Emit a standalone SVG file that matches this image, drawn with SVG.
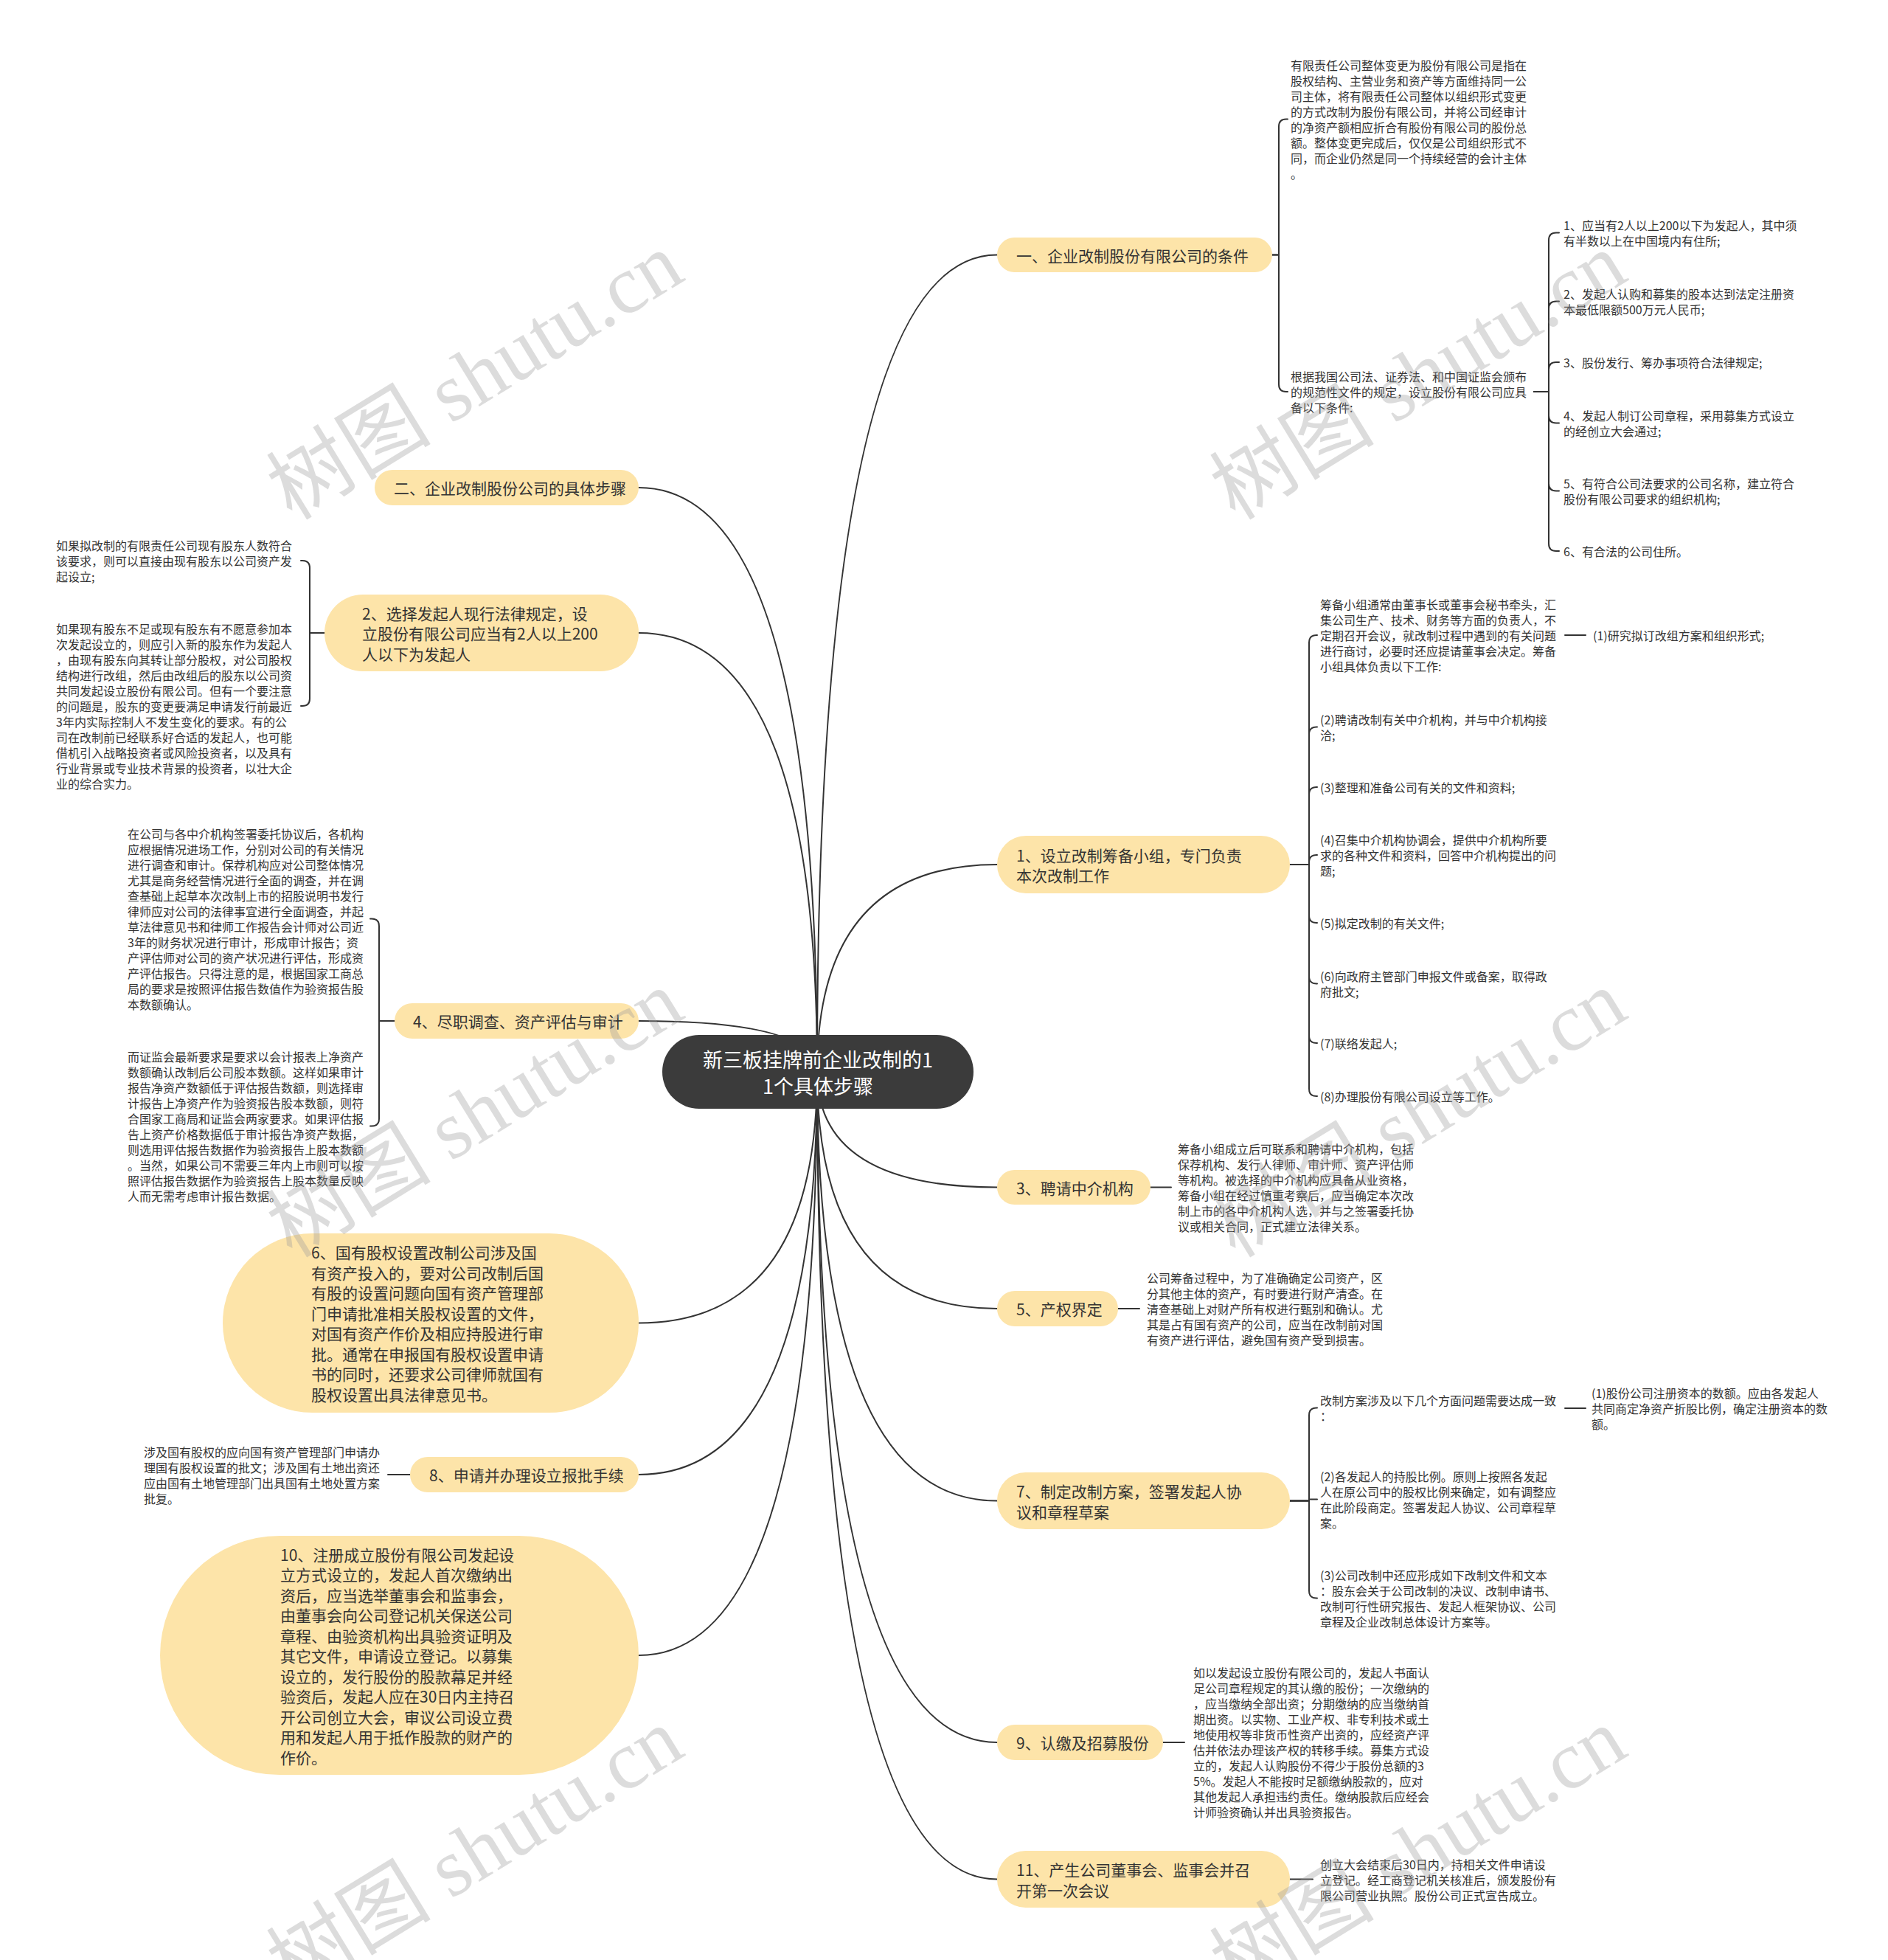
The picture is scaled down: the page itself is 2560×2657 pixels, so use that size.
<svg xmlns="http://www.w3.org/2000/svg" width="2560" height="2657" viewBox="0 0 2560 2657">
<style>
.bg{fill:#ffffff}
.ln{fill:none;stroke:#333333;stroke-width:2;stroke-linecap:round}
.bn{fill:#fde4a9}
.cn{fill:#3b3b3b}
text{font-family:"Noto Sans CJK SC","Noto Sans",sans-serif;dominant-baseline:central}
.lf{font-size:16px;fill:#333333}
.bt{font-size:21px;fill:#333333}
.ct{font-size:27px;fill:#ffffff;text-anchor:middle}
.wm{font-family:"Liberation Serif","Noto Sans CJK SC",serif;font-size:112px;fill:#9a9a9a;fill-opacity:0.35;text-anchor:middle}
</style>
<rect class="bg" x="0" y="0" width="2560" height="2657"/>
<g id="connectors">
<path class="ln" d="M1108 1453 Q1108 345.5 1352 345.5"/>
<path class="ln" d="M1108 1453 Q1108 1172 1352 1172"/>
<path class="ln" d="M1108 1453 Q1108 1609.5 1352 1609.5"/>
<path class="ln" d="M1108 1453 Q1108 1774 1352 1774"/>
<path class="ln" d="M1108 1453 Q1108 2034.5 1352 2034.5"/>
<path class="ln" d="M1108 1453 Q1108 2362 1352 2362"/>
<path class="ln" d="M1108 1453 Q1108 2547.5 1352 2547.5"/>
<path class="ln" d="M1108 1453 Q1108 661 866 661"/>
<path class="ln" d="M1108 1453 Q1108 858 866 858"/>
<path class="ln" d="M1108 1453 Q1108 1384 866 1384"/>
<path class="ln" d="M1108 1453 Q1108 1793.5 866 1793.5"/>
<path class="ln" d="M1108 1453 Q1108 1999 866 1999"/>
<path class="ln" d="M1108 1453 Q1108 2244 866 2244"/>
<path class="ln" d="M1725 345.5 H1734 V171.5 Q1734 161.5 1744 161.5 H1746"/>
<path class="ln" d="M1725 345.5 H1734 V521 Q1734 531 1744 531 H1746"/>
<path class="ln" d="M2080 531 H2100 V325.5 Q2100 315.5 2110 315.5 H2114"/>
<path class="ln" d="M2080 531 H2100 V418.5 Q2100 408.5 2110 408.5 H2114"/>
<path class="ln" d="M2080 531 H2100 V501 Q2100 491 2110 491 H2114"/>
<path class="ln" d="M2080 531 H2100 V563.5 Q2100 573.5 2110 573.5 H2114"/>
<path class="ln" d="M2080 531 H2100 V655.5 Q2100 665.5 2110 665.5 H2114"/>
<path class="ln" d="M2080 531 H2100 V737 Q2100 747 2110 747 H2114"/>
<path class="ln" d="M1749 1172 H1775 V871 Q1775 861 1785 861 H1786"/>
<path class="ln" d="M1749 1172 H1775 V995.5 Q1775 985.5 1785 985.5 H1786"/>
<path class="ln" d="M1749 1172 H1775 V1077 Q1775 1067 1785 1067 H1786"/>
<path class="ln" d="M1749 1172 H1775 V1169 Q1775 1159 1785 1159 H1786"/>
<path class="ln" d="M1749 1172 H1775 V1241 Q1775 1251 1785 1251 H1786"/>
<path class="ln" d="M1749 1172 H1775 V1323.5 Q1775 1333.5 1785 1333.5 H1786"/>
<path class="ln" d="M1749 1172 H1775 V1404 Q1775 1414 1785 1414 H1786"/>
<path class="ln" d="M1749 1172 H1775 V1476 Q1775 1486 1785 1486 H1786"/>
<path class="ln" d="M2122 861 H2150"/>
<path class="ln" d="M1560 1609.5 H1588"/>
<path class="ln" d="M1516 1774 H1545"/>
<path class="ln" d="M1749 2034.5 H1775 V1918.5 Q1775 1908.5 1785 1908.5 H1786"/>
<path class="ln" d="M1749 2034.5 H1775 V2032.5 H1786"/>
<path class="ln" d="M1749 2034.5 H1775 V2156.5 Q1775 2166.5 1785 2166.5 H1786"/>
<path class="ln" d="M2122 1909 H2150"/>
<path class="ln" d="M1577 2362 H1606"/>
<path class="ln" d="M1749 2547.5 H1780"/>
<path class="ln" d="M440 858 H420 V770 Q420 760 410 760 H408"/>
<path class="ln" d="M440 858 H420 V947 Q420 957 410 957 H408"/>
<path class="ln" d="M535 1384 H514 V1255.5 Q514 1245.5 504 1245.5 H502"/>
<path class="ln" d="M535 1384 H514 V1516.5 Q514 1526.5 504 1526.5 H502"/>
<path class="ln" d="M556 1999 H526"/>
</g>
<g id="center">
<rect class="cn" x="898" y="1403" width="422" height="100" rx="50"/>
<text class="ct"><tspan x="1109" y="1435">新三板挂牌前企业改制的1</tspan><tspan x="1109" y="1471">1个具体步骤</tspan></text>
</g>
<g id="r1">
<rect class="bn" x="1352" y="322" width="373" height="47" rx="23.5"/>
<text class="bt" x="1378" y="345.5">一、企业改制股份有限公司的条件</text>
</g>
<g id="r1a">
<text class="lf"><tspan x="1750" y="88">有限责任公司整体变更为股份有限公司是指在</tspan><tspan x="1750" y="109">股权结构、主营业务和资产等方面维持同一公</tspan><tspan x="1750" y="130">司主体，将有限责任公司整体以组织形式变更</tspan><tspan x="1750" y="151">的方式改制为股份有限公司，并将公司经审计</tspan><tspan x="1750" y="172">的净资产额相应折合有股份有限公司的股份总</tspan><tspan x="1750" y="193">额。整体变更完成后，仅仅是公司组织形式不</tspan><tspan x="1750" y="214">同，而企业仍然是同一个持续经营的会计主体</tspan><tspan x="1750" y="235">。</tspan></text>
</g>
<g id="r1b">
<text class="lf"><tspan x="1750" y="510">根据我国公司法、证券法、和中国证监会颁布</tspan><tspan x="1750" y="531">的规范性文件的规定，设立股份有限公司应具</tspan><tspan x="1750" y="552">备以下条件:</tspan></text>
</g>
<g id="r1b1"><text class="lf"><tspan x="2120" y="305">1、应当有2人以上200以下为发起人，其中须</tspan><tspan x="2120" y="326">有半数以上在中国境内有住所;</tspan></text></g>
<g id="r1b2"><text class="lf"><tspan x="2120" y="398">2、发起人认购和募集的股本达到法定注册资</tspan><tspan x="2120" y="419">本最低限额500万元人民币;</tspan></text></g>
<g id="r1b3"><text class="lf" x="2120" y="491">3、股份发行、筹办事项符合法律规定;</text></g>
<g id="r1b4"><text class="lf"><tspan x="2120" y="563">4、发起人制订公司章程，采用募集方式设立</tspan><tspan x="2120" y="584">的经创立大会通过;</tspan></text></g>
<g id="r1b5"><text class="lf"><tspan x="2120" y="655">5、有符合公司法要求的公司名称，建立符合</tspan><tspan x="2120" y="676">股份有限公司要求的组织机构;</tspan></text></g>
<g id="r1b6"><text class="lf" x="2120" y="747">6、有合法的公司住所。</text></g>
<g id="r2">
<rect class="bn" x="1352" y="1133" width="397" height="78" rx="39"/>
<text class="bt"><tspan x="1378" y="1158.5">1、设立改制筹备小组，专门负责</tspan><tspan x="1378" y="1186">本次改制工作</tspan></text>
</g>
<g id="r2a"><text class="lf"><tspan x="1790" y="819">筹备小组通常由董事长或董事会秘书牵头，汇</tspan><tspan x="1790" y="840">集公司生产、技术、财务等方面的负责人，不</tspan><tspan x="1790" y="861">定期召开会议，就改制过程中遇到的有关问题</tspan><tspan x="1790" y="882">进行商讨，必要时还应提请董事会决定。筹备</tspan><tspan x="1790" y="903">小组具体负责以下工作:</tspan></text></g>
<g id="r2a1"><text class="lf" x="2160" y="861">(1)研究拟订改组方案和组织形式;</text></g>
<g id="r2b"><text class="lf"><tspan x="1790" y="975">(2)聘请改制有关中介机构，并与中介机构接</tspan><tspan x="1790" y="996">洽;</tspan></text></g>
<g id="r2c"><text class="lf" x="1790" y="1067">(3)整理和准备公司有关的文件和资料;</text></g>
<g id="r2d"><text class="lf"><tspan x="1790" y="1138">(4)召集中介机构协调会，提供中介机构所要</tspan><tspan x="1790" y="1159">求的各种文件和资料，回答中介机构提出的问</tspan><tspan x="1790" y="1180">题;</tspan></text></g>
<g id="r2e"><text class="lf" x="1790" y="1251">(5)拟定改制的有关文件;</text></g>
<g id="r2f"><text class="lf"><tspan x="1790" y="1323">(6)向政府主管部门申报文件或备案，取得政</tspan><tspan x="1790" y="1344">府批文;</tspan></text></g>
<g id="r2g"><text class="lf" x="1790" y="1414">(7)联络发起人;</text></g>
<g id="r2h"><text class="lf" x="1790" y="1486">(8)办理股份有限公司设立等工作。</text></g>
<g id="r3">
<rect class="bn" x="1352" y="1586" width="208" height="47" rx="23.5"/>
<text class="bt" x="1378" y="1609.5">3、聘请中介机构</text>
</g>
<g id="r3a"><text class="lf"><tspan x="1597" y="1557">筹备小组成立后可联系和聘请中介机构，包括</tspan><tspan x="1597" y="1578">保荐机构、发行人律师、审计师、资产评估师</tspan><tspan x="1597" y="1599">等机构。被选择的中介机构应具备从业资格，</tspan><tspan x="1597" y="1620">筹备小组在经过慎重考察后，应当确定本次改</tspan><tspan x="1597" y="1641">制上市的各中介机构人选，并与之签署委托协</tspan><tspan x="1597" y="1662">议或相关合同，正式建立法律关系。</tspan></text></g>
<g id="r4">
<rect class="bn" x="1352" y="1750" width="164" height="48" rx="24"/>
<text class="bt" x="1378" y="1774">5、产权界定</text>
</g>
<g id="r4a"><text class="lf"><tspan x="1555" y="1732">公司筹备过程中，为了准确确定公司资产，区</tspan><tspan x="1555" y="1753">分其他主体的资产，有时要进行财产清查。在</tspan><tspan x="1555" y="1774">清查基础上对财产所有权进行甄别和确认。尤</tspan><tspan x="1555" y="1795">其是占有国有资产的公司，应当在改制前对国</tspan><tspan x="1555" y="1816">有资产进行评估，避免国有资产受到损害。</tspan></text></g>
<g id="r5">
<rect class="bn" x="1352" y="1996" width="397" height="77" rx="38.5"/>
<text class="bt"><tspan x="1378" y="2021">7、制定改制方案，签署发起人协</tspan><tspan x="1378" y="2048.5">议和章程草案</tspan></text>
</g>
<g id="r5a"><text class="lf"><tspan x="1790" y="1898">改制方案涉及以下几个方面问题需要达成一致</tspan><tspan x="1790" y="1919">：</tspan></text></g>
<g id="r5a1"><text class="lf"><tspan x="2158" y="1888">(1)股份公司注册资本的数额。应由各发起人</tspan><tspan x="2158" y="1909">共同商定净资产折股比例，确定注册资本的数</tspan><tspan x="2158" y="1930">额。</tspan></text></g>
<g id="r5b"><text class="lf"><tspan x="1790" y="2001">(2)各发起人的持股比例。原则上按照各发起</tspan><tspan x="1790" y="2022">人在原公司中的股权比例来确定，如有调整应</tspan><tspan x="1790" y="2043">在此阶段商定。签署发起人协议、公司章程草</tspan><tspan x="1790" y="2064">案。</tspan></text></g>
<g id="r5c"><text class="lf"><tspan x="1790" y="2135">(3)公司改制中还应形成如下改制文件和文本</tspan><tspan x="1790" y="2156">：股东会关于公司改制的决议、改制申请书、</tspan><tspan x="1790" y="2177">改制可行性研究报告、发起人框架协议、公司</tspan><tspan x="1790" y="2198">章程及企业改制总体设计方案等。</tspan></text></g>
<g id="r6">
<rect class="bn" x="1352" y="2338" width="225" height="48" rx="24"/>
<text class="bt" x="1378" y="2362">9、认缴及招募股份</text>
</g>
<g id="r6a"><text class="lf"><tspan x="1618" y="2267">如以发起设立股份有限公司的，发起人书面认</tspan><tspan x="1618" y="2288">足公司章程规定的其认缴的股份；一次缴纳的</tspan><tspan x="1618" y="2309">，应当缴纳全部出资；分期缴纳的应当缴纳首</tspan><tspan x="1618" y="2330">期出资。以实物、工业产权、非专利技术或土</tspan><tspan x="1618" y="2351">地使用权等非货币性资产出资的，应经资产评</tspan><tspan x="1618" y="2372">估并依法办理该产权的转移手续。募集方式设</tspan><tspan x="1618" y="2393">立的，发起人认购股份不得少于股份总额的3</tspan><tspan x="1618" y="2414">5%。发起人不能按时足额缴纳股款的，应对</tspan><tspan x="1618" y="2435">其他发起人承担违约责任。缴纳股款后应经会</tspan><tspan x="1618" y="2456">计师验资确认并出具验资报告。</tspan></text></g>
<g id="r7">
<rect class="bn" x="1352" y="2509" width="397" height="77" rx="38.5"/>
<text class="bt"><tspan x="1378" y="2534">11、产生公司董事会、监事会并召</tspan><tspan x="1378" y="2561.5">开第一次会议</tspan></text>
</g>
<g id="r7a"><text class="lf"><tspan x="1790" y="2527">创立大会结束后30日内，持相关文件申请设</tspan><tspan x="1790" y="2548">立登记。经工商登记机关核准后，颁发股份有</tspan><tspan x="1790" y="2569">限公司营业执照。股份公司正式宣告成立。</tspan></text></g>
<g id="l1">
<rect class="bn" x="508" y="637" width="358" height="48" rx="24"/>
<text class="bt" x="534" y="661">二、企业改制股份公司的具体步骤</text>
</g>
<g id="l2">
<rect class="bn" x="440" y="806" width="426" height="104" rx="52"/>
<text class="bt"><tspan x="491" y="830.5">2、选择发起人现行法律规定，设</tspan><tspan x="491" y="858">立股份有限公司应当有2人以上200</tspan><tspan x="491" y="885.5">人以下为发起人</tspan></text>
</g>
<g id="l2a"><text class="lf"><tspan x="76" y="739">如果拟改制的有限责任公司现有股东人数符合</tspan><tspan x="76" y="760">该要求，则可以直接由现有股东以公司资产发</tspan><tspan x="76" y="781">起设立;</tspan></text></g>
<g id="l2b"><text class="lf"><tspan x="76" y="852">如果现有股东不足或现有股东有不愿意参加本</tspan><tspan x="76" y="873">次发起设立的，则应引入新的股东作为发起人</tspan><tspan x="76" y="894">，由现有股东向其转让部分股权，对公司股权</tspan><tspan x="76" y="915">结构进行改组，然后由改组后的股东以公司资</tspan><tspan x="76" y="936">共同发起设立股份有限公司。但有一个要注意</tspan><tspan x="76" y="957">的问题是，股东的变更要满足申请发行前最近</tspan><tspan x="76" y="978">3年内实际控制人不发生变化的要求。有的公</tspan><tspan x="76" y="999">司在改制前已经联系好合适的发起人，也可能</tspan><tspan x="76" y="1020">借机引入战略投资者或风险投资者，以及具有</tspan><tspan x="76" y="1041">行业背景或专业技术背景的投资者，以壮大企</tspan><tspan x="76" y="1062">业的综合实力。</tspan></text></g>
<g id="l3">
<rect class="bn" x="535" y="1360" width="331" height="48" rx="24"/>
<text class="bt" x="560" y="1384">4、尽职调查、资产评估与审计</text>
</g>
<g id="l3a"><text class="lf"><tspan x="173" y="1130">在公司与各中介机构签署委托协议后，各机构</tspan><tspan x="173" y="1151">应根据情况进场工作，分别对公司的有关情况</tspan><tspan x="173" y="1172">进行调查和审计。保荐机构应对公司整体情况</tspan><tspan x="173" y="1193">尤其是商务经营情况进行全面的调查，并在调</tspan><tspan x="173" y="1214">查基础上起草本次改制上市的招股说明书发行</tspan><tspan x="173" y="1235">律师应对公司的法律事宜进行全面调查，并起</tspan><tspan x="173" y="1256">草法律意见书和律师工作报告会计师对公司近</tspan><tspan x="173" y="1277">3年的财务状况进行审计，形成审计报告；资</tspan><tspan x="173" y="1298">产评估师对公司的资产状况进行评估，形成资</tspan><tspan x="173" y="1319">产评估报告。只得注意的是，根据国家工商总</tspan><tspan x="173" y="1340">局的要求是按照评估报告数值作为验资报告股</tspan><tspan x="173" y="1361">本数额确认。</tspan></text></g>
<g id="l3b"><text class="lf"><tspan x="173" y="1432">而证监会最新要求是要求以会计报表上净资产</tspan><tspan x="173" y="1453">数额确认改制后公司股本数额。这样如果审计</tspan><tspan x="173" y="1474">报告净资产数额低于评估报告数额，则选择审</tspan><tspan x="173" y="1495">计报告上净资产作为验资报告股本数额，则符</tspan><tspan x="173" y="1516">合国家工商局和证监会两家要求。如果评估报</tspan><tspan x="173" y="1537">告上资产价格数据低于审计报告净资产数据，</tspan><tspan x="173" y="1558">则选用评估报告数据作为验资报告上股本数额</tspan><tspan x="173" y="1579">。当然，如果公司不需要三年内上市则可以按</tspan><tspan x="173" y="1600">照评估报告数据作为验资报告上股本数量反映</tspan><tspan x="173" y="1621">人而无需考虑审计报告数据。</tspan></text></g>
<g id="l4">
<rect class="bn" x="302" y="1672" width="564" height="243" rx="121.5"/>
<text class="bt"><tspan x="422" y="1697">6、国有股权设置改制公司涉及国</tspan><tspan x="422" y="1724.5">有资产投入的，要对公司改制后国</tspan><tspan x="422" y="1752">有股的设置问题向国有资产管理部</tspan><tspan x="422" y="1779.5">门申请批准相关股权设置的文件，</tspan><tspan x="422" y="1807">对国有资产作价及相应持股进行审</tspan><tspan x="422" y="1834.5">批。通常在申报国有股权设置申请</tspan><tspan x="422" y="1862">书的同时，还要求公司律师就国有</tspan><tspan x="422" y="1889.5">股权设置出具法律意见书。</tspan></text>
</g>
<g id="l5">
<rect class="bn" x="556" y="1975" width="310" height="48" rx="24"/>
<text class="bt" x="582" y="1999">8、申请并办理设立报批手续</text>
</g>
<g id="l5a"><text class="lf"><tspan x="195" y="1967.5">涉及国有股权的应向国有资产管理部门申请办</tspan><tspan x="195" y="1988.5">理国有股权设置的批文；涉及国有土地出资还</tspan><tspan x="195" y="2009.5">应由国有土地管理部门出具国有土地处置方案</tspan><tspan x="195" y="2030.5">批复。</tspan></text></g>
<g id="l6">
<rect class="bn" x="217" y="2082" width="649" height="324" rx="162"/>
<text class="bt"><tspan x="380" y="2106.5">10、注册成立股份有限公司发起设</tspan><tspan x="380" y="2134">立方式设立的，发起人首次缴纳出</tspan><tspan x="380" y="2161.5">资后，应当选举董事会和监事会，</tspan><tspan x="380" y="2189">由董事会向公司登记机关保送公司</tspan><tspan x="380" y="2216.5">章程、由验资机构出具验资证明及</tspan><tspan x="380" y="2244">其它文件，申请设立登记。以募集</tspan><tspan x="380" y="2271.5">设立的，发行股份的股款幕足并经</tspan><tspan x="380" y="2299">验资后，发起人应在30日内主持召</tspan><tspan x="380" y="2326.5">开公司创立大会，审议公司设立费</tspan><tspan x="380" y="2354">用和发起人用于抵作股款的财产的</tspan><tspan x="380" y="2381.5">作价。</tspan></text>
</g>
<g id="watermarks">
<text class="wm" transform="translate(644 510) rotate(-31.5)">树图 shutu.cn</text>
<text class="wm" transform="translate(1923 510) rotate(-31.5)">树图 shutu.cn</text>
<text class="wm" transform="translate(644 1510) rotate(-31.5)">树图 shutu.cn</text>
<text class="wm" transform="translate(1923 1510) rotate(-31.5)">树图 shutu.cn</text>
<text class="wm" transform="translate(644 2510) rotate(-31.5)">树图 shutu.cn</text>
<text class="wm" transform="translate(1923 2510) rotate(-31.5)">树图 shutu.cn</text>
</g>
</svg>
